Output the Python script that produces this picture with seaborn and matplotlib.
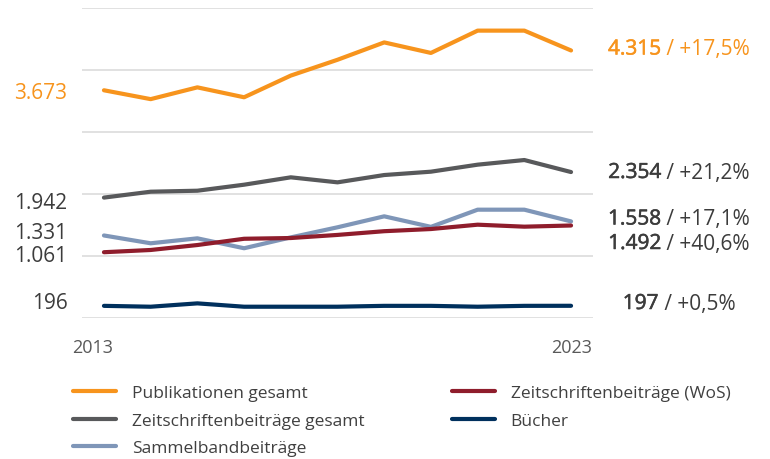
import numpy as np
import pandas as pd
import matplotlib.pyplot as plt
import matplotlib.transforms as mtransforms
import matplotlib.patheffects as pe
from matplotlib.lines import Line2D
import seaborn as sns

# ── Data ──────────────────────────────────────────────────
years = list(range(2013, 2024))
pub_total = [3673, 3530, 3720, 3560, 3910, 4165, 4445, 4275, 4635, 4635, 4315]
zs_total = [1942, 2037, 2053, 2150, 2269, 2188, 2306, 2360, 2473, 2548, 2354]
sammel = [1331, 1205, 1285, 1125, 1300, 1463, 1640, 1470, 1747, 1747, 1558]
wos = [1061, 1097, 1177, 1278, 1290, 1340, 1400, 1435, 1505, 1473, 1492]
buecher = [196, 182, 236, 182, 182, 182, 196, 196, 182, 196, 197]

series_names = ['Publikationen gesamt', 'Zeitschriftenbeiträge gesamt',
                'Sammelbandbeiträge', 'Zeitschriftenbeiträge (WoS)', 'Bücher']
series_values = [pub_total, zs_total, sammel, wos, buecher]
colors = ['#F7941D', '#58595B', '#7F96B8', '#8F1D2C', '#00305D']
end_change = ['+17,5%', '+21,2%', '+17,1%', '+40,6%', '+0,5%']

# label y positions (data units), nudged apart where they would collide
left_label_y = [3640, 1855, 1371, 1016, 250]
right_label_y = [4339, 2347, 1597, 1202, 234]

df = pd.DataFrame({
    'year': years * len(series_names),
    'value': sum(series_values, []),
    'series': [n for n in series_names for _ in years],
})

sns.set_style("white")
plt.rcParams['font.family'] = ['Open Sans', 'DejaVu Sans']

fig = plt.figure(figsize=(7.7, 4.6), dpi=100)
ax = fig.add_axes([82 / 770, 1 - 319 / 460, 511 / 770, 310 / 460])

palette = dict(zip(series_names, colors))
sns.lineplot(data=df, x='year', y='value', hue='series', hue_order=series_names,
             palette=palette, linewidth=3, ax=ax, legend=False)
for ln in ax.get_lines():
    ln.set_clip_on(False)
    ln.set_solid_capstyle('round')

ax.set_xlim(2012.53, 2023.47)
ax.set_ylim(0, 5000)
ax.set_yticks(range(0, 5001, 1000))
ax.set_xticks([])
ax.yaxis.grid(True, color='#D9D9D9', linewidth=1.1)
ax.set_axisbelow(True)
ax.tick_params(left=False, labelleft=False)
ax.set_xlabel('')
ax.set_ylabel('')
for s in ax.spines.values():
    s.set_visible(False)

# ── Start / end labels ────────────────────────────────────
trans = mtransforms.blended_transform_factory(fig.transFigure, ax.transData)
FS = 15
for name, vals, col, ly, ry, chg in zip(series_names, series_values, colors,
                                         left_label_y, right_label_y, end_change):
    txt_col = col if name == 'Publikationen gesamt' else '#3C3C3C'
    start = f"{vals[0]:,}".replace(',', '.')
    end = f"{vals[-1]:,}".replace(',', '.')
    ax.text(67.5 / 770, ly, start, transform=trans, ha='right', va='center',
            fontsize=FS, color=txt_col)
    # semibold look: regular weight with a thin outline
    t1 = ax.text(603 / 770, ry, end, transform=trans, ha='left', va='center',
                 fontsize=FS, color=txt_col,
                 path_effects=[pe.withStroke(linewidth=0.4, foreground=txt_col)])
    t2 = ax.annotate(f" / {chg}", xy=(1, 0), xycoords=t1, ha='left', va='bottom',
                     fontsize=FS, color=txt_col)
    t1._pair = t2

# centre each right-hand label around x = 679 px
fig.canvas.draw()
r = fig.canvas.get_renderer()
for t in ax.texts:
    if hasattr(t, '_pair'):
        w = t.get_window_extent(r).width + t._pair.get_window_extent(r).width
        t.set_x((679 - w / 2) / 770)

# year labels
fig.text(92.7 / 770, 1 - 348.5 / 460, str(years[0]), ha='center', va='center',
         fontsize=13, color='#595959')
fig.text(571.7 / 770, 1 - 348.5 / 460, str(years[-1]), ha='center', va='center',
         fontsize=13, color='#595959')

# ── Legend (two columns) ──────────────────────────────────
handles = [Line2D([0], [0], color=c, lw=3, solid_capstyle='round') for c in colors]
leg_kw = dict(frameon=False, fontsize=12.5, handlelength=2.48, handletextpad=0.9,
              labelspacing=0.66, borderpad=0, borderaxespad=0, loc='upper left',
              labelcolor='#404040')
fig.legend(handles[:3], series_names[:3],
           bbox_to_anchor=(73 / 770, 1 - 386 / 460), **leg_kw)
fig.legend(handles[3:], series_names[3:],
           bbox_to_anchor=(452 / 770, 1 - 386 / 460), **leg_kw)

plt.savefig('out.png', dpi=100)
